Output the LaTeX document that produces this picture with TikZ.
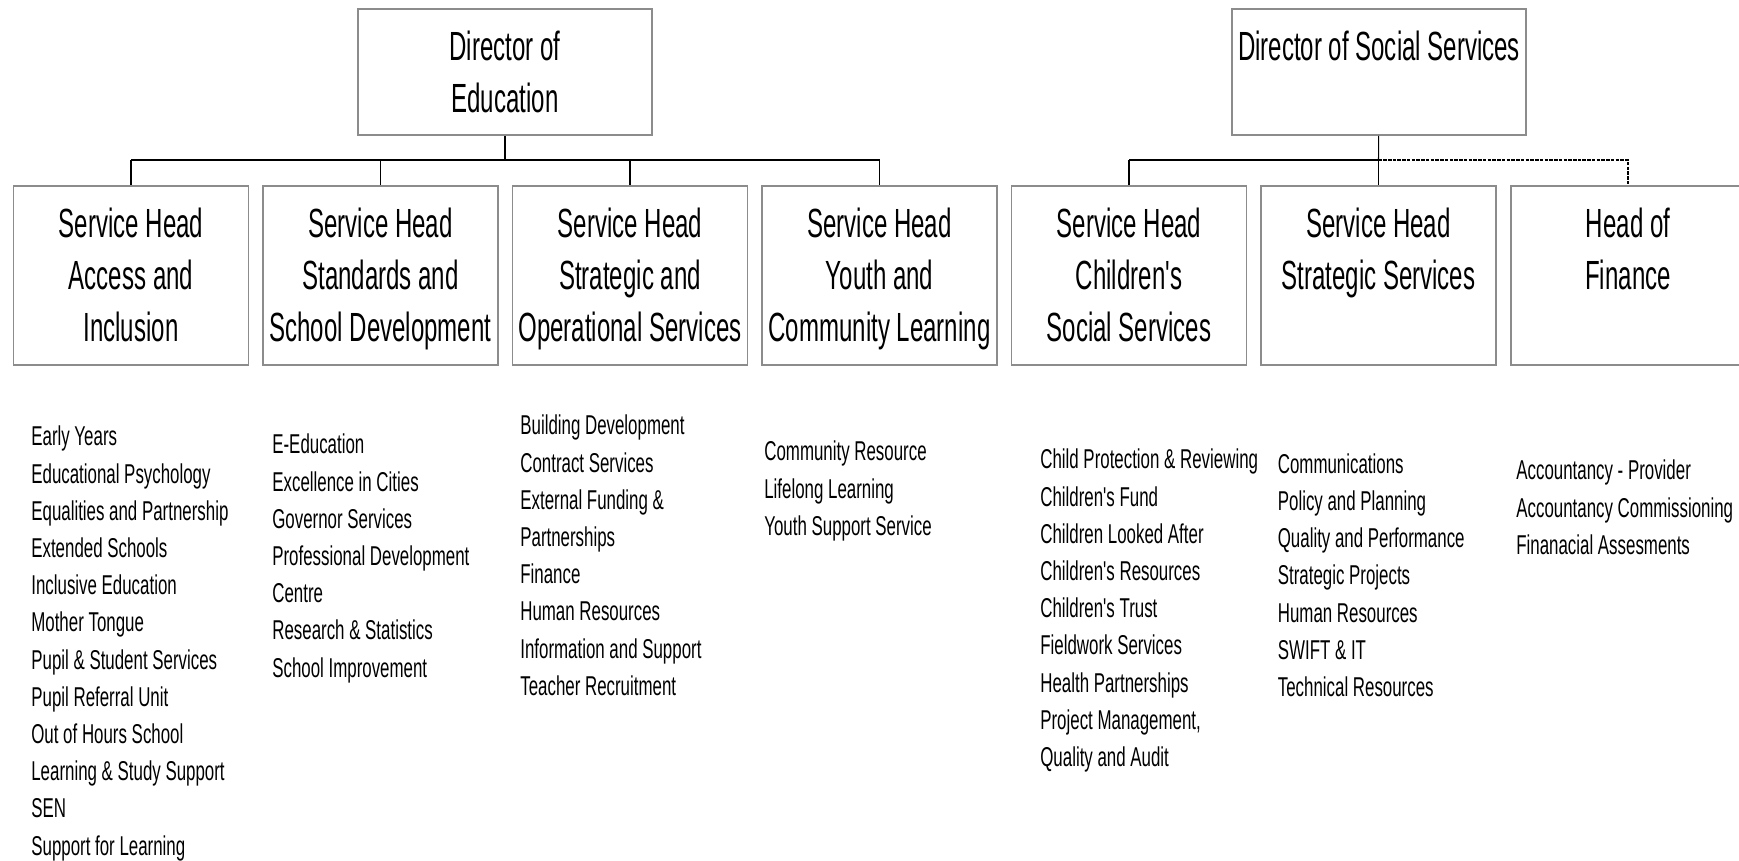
\documentclass[tikz,border=0pt]{standalone}
\usepackage{fontspec}
\setmainfont{Liberation Sans}
\newfontfamily\headfam{Liberation Sans}[FakeStretch=0.59]
\newfontfamily\itemfam{Liberation Sans}[FakeStretch=0.62]
\usepackage{tikz}
\usetikzlibrary{positioning}
\definecolor{boxgray}{HTML}{8C8C8C}
\tikzset{orgbox/.style n args={2}{draw=boxgray,line width=1.1pt,inner sep=0pt,anchor=north,
    font={\headfam\fontsize{23.2pt}{29.6pt}\selectfont},
    execute at begin node={\begin{minipage}[t][#2][t]{#1}\centering\vspace*{0.44cm}},
    execute at end node={\end{minipage}}},
  director/.style={orgbox={5.88cm}{2.52cm}},
  head/.style={orgbox={4.7cm}{3.58cm}},
  item/.style={anchor=west,inner sep=0pt,text height=11.1pt,text depth=3.3pt,
    font={\itemfam\fontsize{15.5pt}{18pt}\selectfont}},
  bus/.style={line width=1.5pt},
  link/.style={line width=0.6pt},
  dashlink/.style={line width=0.6pt,dash pattern=on 2pt off 0.7pt}}

\begin{document}
\begin{tikzpicture}[x=0.02cm,y=-0.02cm]
    \useasboundingbox (0,0) rectangle (1739,861);

    \node[director] (edu) at (505,8) {Director of\\Education};
    \node[director] (soc) at (1379,8) {Director of Social Services};

    \node[head] (access) at (131,185) {Service Head\\Access and\\Inclusion};
    \node[head] (standards) at (380.5,185) {Service Head\\Standards and\\School Development};
    \node[head] (strategic) at (630,185) {Service Head\\Strategic and\\Operational Services};
    \node[head] (youth) at (879.5,185) {Service Head\\Youth and\\Community Learning};
    \node[head] (children) at (1129,185) {Service Head\\Children's\\Social Services};
    \node[head] (stratserv) at (1378.5,185) {Service Head\\Strategic Services};
    \node[head] (finance) at (1628,185) {Head of\\Finance};

    \coordinate (ebus) at (505,160);
    \coordinate (sbus) at (1378.5,160);

    \draw[link] (edu) -- (ebus);
    \draw[bus] (access.north |- ebus) -- (youth.north |- ebus);
    \foreach \n in {access,standards,strategic,youth}
        \draw[link] (\n.north |- ebus) -- (\n);

    \draw[link] (soc) -- (sbus);
    \draw[bus] (children.north |- sbus) -- (sbus);
    \draw[link] (children.north |- sbus) -- (children);
    \draw[link] (sbus) -- (stratserv);
    \draw[dashlink] (sbus) -| (finance);

    \foreach \t [count=\i from 0] in {Early Years,Educational Psychology,Equalities and Partnership,
        Extended Schools,Inclusive Education,Mother Tongue,Pupil \& Student Services,
        Pupil Referral Unit,Out of Hours School,Learning \& Study Support,SEN,Support for Learning}
        \node[item] (ac\i) at (31,439+37.2*\i) {\t};
    \foreach \t [count=\i from 0] in {E-Education,Excellence in Cities,Governor Services,
        Professional Development,Centre,Research \& Statistics,School Improvement}
        \node[item] (sd\i) at (272,447+37.2*\i) {\t};
    \foreach \t [count=\i from 0] in {Building Development,Contract Services,External Funding \&,
        Partnerships,Finance,Human Resources,Information and Support,Teacher Recruitment}
        \node[item] (so\i) at (520,428+37.2*\i) {\t};
    \foreach \t [count=\i from 0] in {Community Resource,Lifelong Learning,Youth Support Service}
        \node[item] (yc\i) at (764,454+37.2*\i) {\t};
    \foreach \t [count=\i from 0] in {Child Protection \& Reviewing,Children's Fund,
        Children Looked After,Children's Resources,Children's Trust,Fieldwork Services,
        Health Partnerships,{Project Management,},Quality and Audit}
        \node[item] (cs\i) at (1040,462+37.2*\i) {\t};
    \foreach \t [count=\i from 0] in {Communications,Policy and Planning,Quality and Performance,
        Strategic Projects,Human Resources,SWIFT \& IT,Technical Resources}
        \node[item] (ss\i) at (1277.5,466.5+37.2*\i) {\t};
    \foreach \t [count=\i from 0] in {Accountancy - Provider,Accountancy Commissioning,
        Finanacial Assesments}
        \node[item] (fi\i) at (1516,473+37.2*\i) {\t};
\end{tikzpicture}
\end{document}
